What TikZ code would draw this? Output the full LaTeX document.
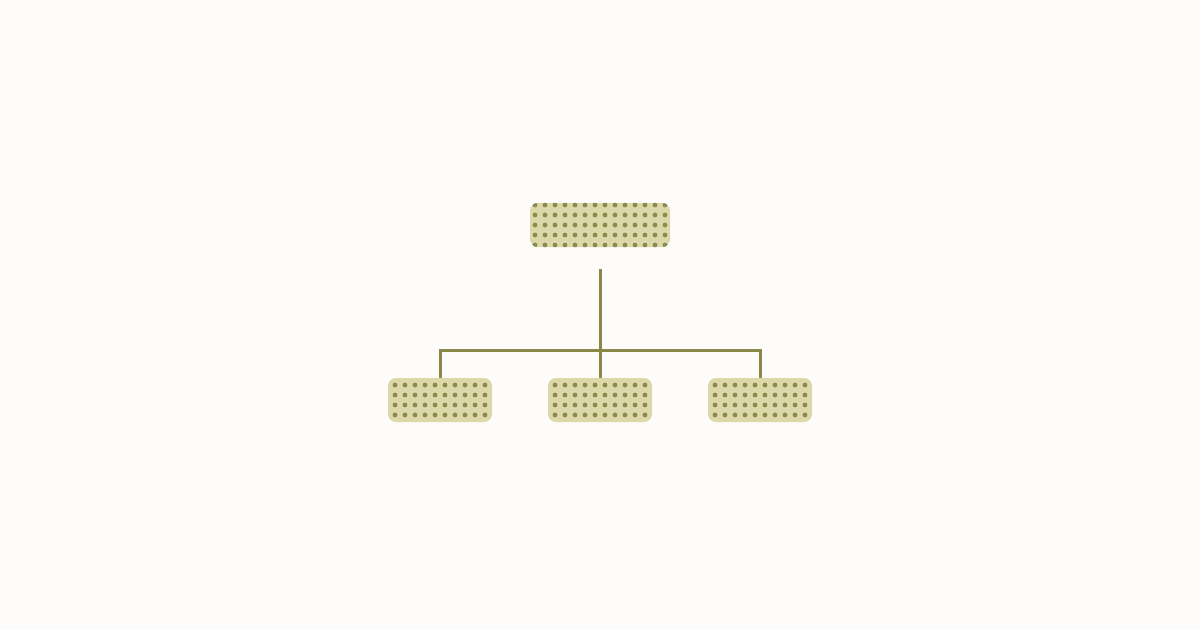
\documentclass[tikz,border=0pt]{standalone}
\usetikzlibrary{calc}
\definecolor{bgc}{HTML}{FDFCFA}
\definecolor{boxfill}{HTML}{DDD8AA}
\definecolor{olive}{HTML}{8A8847}
\definecolor{dotc}{HTML}{8C8B4E}
\begin{document}
\begin{tikzpicture}[x=1pt,y=-1pt,
  box/.style={draw=none,fill=boxfill,rounded corners=8pt,inner sep=0pt,minimum height=44pt},
  conn/.style={draw=olive,line width=3pt}]
\fill[bgc] (0,0) rectangle (1200,630);
\useasboundingbox (0,0) rectangle (1200,630);
\node[box,minimum width=140pt] (t) at (600,225) {};
\node[box,minimum width=104pt] (l) at (440,400) {};
\node[box,minimum width=104pt] (m) at (600,400) {};
\node[box,minimum width=104pt] (r) at (760,400) {};
% dots
\foreach \n/\xa/\xb/\ya/\yb in {t/535/665/205/245, l/395/485/385/415, m/555/645/385/415, r/715/805/385/415}{
  \begin{scope}
    \clip[rounded corners=8pt] (\n.south west) rectangle (\n.north east);
    \pgfmathsetmacro{\xs}{\xa+10}
    \pgfmathsetmacro{\ys}{\ya+10}
    \foreach \x in {\xa,\xs,...,\xb}
      \foreach \y in {\ya,\ys,...,\yb}
        \fill[dotc] (\x,\y) circle (2.4pt);
  \end{scope}
}
\coordinate (bus) at (600,350);
\draw[conn] ($(t.south)+(0,22)$) -- (bus);
\draw[conn] (l.north) -- (l.north |- bus) -- (r.north |- bus) -- (r.north);
\draw[conn] (m.north) -- (m.north |- bus);
\end{tikzpicture}
\end{document}
